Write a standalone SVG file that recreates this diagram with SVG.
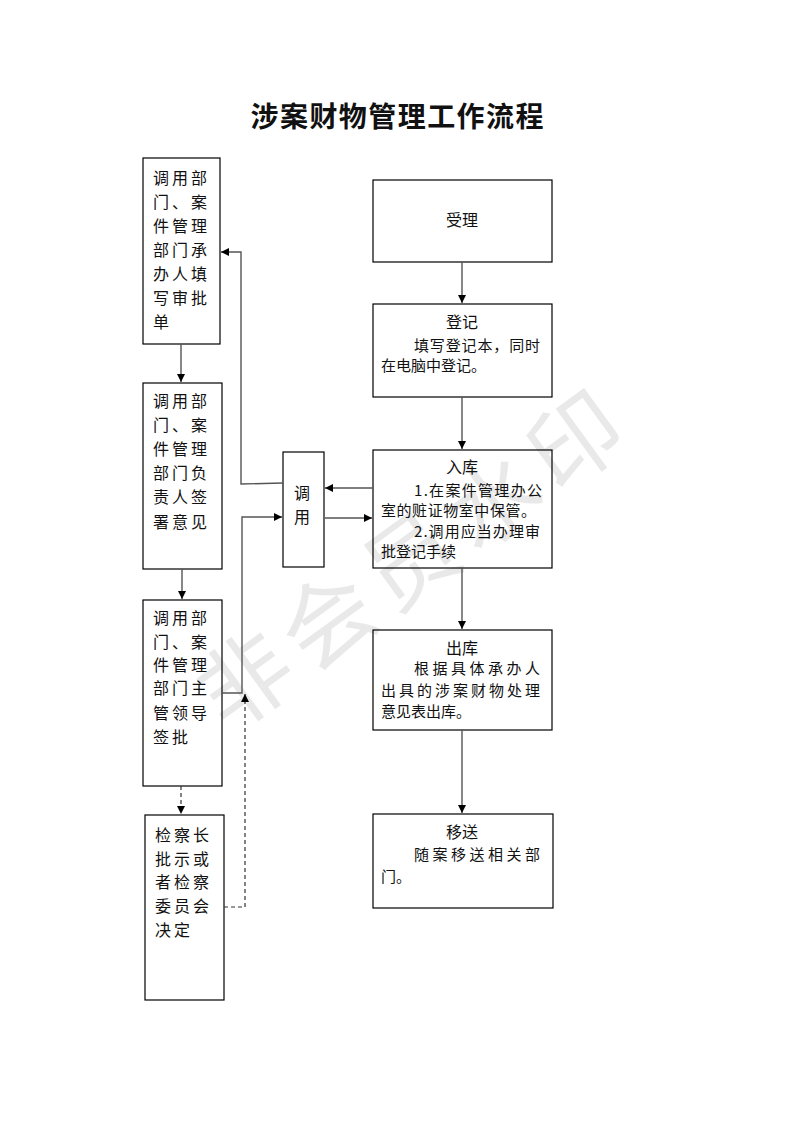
<svg xmlns="http://www.w3.org/2000/svg" width="793" height="1122" viewBox="0 0 793 1122">
<style>
  .box{fill:none;stroke:#000;stroke-width:1.2}
  .t{font-family:"Noto Sans CJK SC","Liberation Serif",sans-serif;fill:#111}
  .lt{font-size:16px;letter-spacing:3px}
  .rt{font-size:15px}
  .hd{font-size:16px;text-anchor:middle}
  .ln{fill:none;stroke:#555;stroke-width:1.4}
  .dl{fill:none;stroke:#333;stroke-width:1.2;stroke-dasharray:4 3}
  .wm{font-family:"Noto Sans CJK SC",sans-serif;font-size:92px;fill:#e9e9e9;text-anchor:middle}
</style>
<defs>
  <marker id="ah" viewBox="0 0 10 10" refX="10" refY="5" markerWidth="8" markerHeight="8" markerUnits="userSpaceOnUse" orient="auto">
    <path d="M0,0 L10,5 L0,10 z" fill="#000"/>
  </marker>
</defs>
<rect width="793" height="1122" fill="#fff"/>
<g id="watermark" transform="translate(410,560) rotate(-36)">
  <text class="wm" x="0" y="34" textLength="500" lengthAdjust="spacing">非会员水印</text>
</g>
<text class="t" x="397" y="127" font-size="28" font-weight="700" text-anchor="middle" textLength="293" lengthAdjust="spacing">涉案财物管理工作流程</text>

<g id="A">
  <rect class="box" x="143" y="158" width="77" height="186"/>
  <text class="t lt" x="153"><tspan x="153" y="184">调用部</tspan><tspan x="153" y="208">门、案</tspan><tspan x="153" y="232">件管理</tspan><tspan x="153" y="256">部门承</tspan><tspan x="153" y="280">办人填</tspan><tspan x="153" y="304">写审批</tspan><tspan x="153" y="328">单</tspan></text>
</g>
<g id="B">
  <rect class="box" x="143" y="383" width="79" height="186"/>
  <text class="t lt"><tspan x="153" y="407">调用部</tspan><tspan x="153" y="431">门、案</tspan><tspan x="153" y="455">件管理</tspan><tspan x="153" y="479">部门负</tspan><tspan x="153" y="503">责人签</tspan><tspan x="153" y="528">署意见</tspan></text>
</g>
<g id="C">
  <rect class="box" x="143" y="600" width="79" height="186"/>
  <text class="t lt"><tspan x="153" y="624">调用部</tspan><tspan x="153" y="648">门、案</tspan><tspan x="153" y="671">件管理</tspan><tspan x="153" y="694">部门主</tspan><tspan x="153" y="719">管领导</tspan><tspan x="153" y="743">签批</tspan></text>
</g>
<g id="D">
  <rect class="box" x="145" y="815" width="79" height="185"/>
  <text class="t lt"><tspan x="155" y="841">检察长</tspan><tspan x="155" y="865">批示或</tspan><tspan x="155" y="888">者检察</tspan><tspan x="155" y="912">委员会</tspan><tspan x="155" y="936">决定</tspan></text>
</g>
<g id="diaoyong">
  <rect class="box" x="283" y="452" width="41" height="115"/>
  <text class="t hd"><tspan x="302" y="499">调</tspan><tspan x="302" y="523">用</tspan></text>
</g>
<g id="shouli">
  <rect class="box" x="373" y="180" width="179" height="82"/>
  <text class="t hd" x="462" y="226">受理</text>
</g>
<g id="dengji">
  <rect class="box" x="373" y="304" width="179" height="93"/>
  <text class="t hd" x="462" y="328">登记</text>
  <text class="t rt" x="414" y="351" textLength="126" lengthAdjust="spacing">填写登记本，同时</text>
  <text class="t rt" x="381" y="371">在电脑中登记。</text>
</g>
<g id="ruku">
  <rect class="box" x="373" y="450" width="179" height="118"/>
  <text class="t hd" x="462" y="473">入库</text>
  <text class="t rt" x="414" y="496" textLength="128" lengthAdjust="spacing">1.在案件管理办公</text>
  <text class="t rt" x="381" y="516" textLength="155" lengthAdjust="spacing">室的赃证物室中保管。</text>
  <text class="t rt" x="414" y="537" textLength="126" lengthAdjust="spacing">2.调用应当办理审</text>
  <text class="t rt" x="381" y="557">批登记手续</text>
</g>
<g id="chuku">
  <rect class="box" x="373" y="630" width="179" height="100"/>
  <text class="t hd" x="462" y="654">出库</text>
  <text class="t rt" x="414" y="674" textLength="126" lengthAdjust="spacing">根据具体承办人</text>
  <text class="t rt" x="381" y="696" textLength="159" lengthAdjust="spacing">出具的涉案财物处理</text>
  <text class="t rt" x="381" y="717">意见表出库。</text>
</g>
<g id="yisong">
  <rect class="box" x="373" y="814" width="180" height="94"/>
  <text class="t hd" x="462" y="838">移送</text>
  <text class="t rt" x="414" y="860" textLength="126" lengthAdjust="spacing">随案移送相关部</text>
  <text class="t rt" x="381" y="882">门。</text>
</g>

<g id="connectors">
  <line class="ln" x1="462" y1="262" x2="462" y2="303" marker-end="url(#ah)"/>
  <line class="ln" x1="462" y1="397" x2="462" y2="449" marker-end="url(#ah)"/>
  <line class="ln" x1="462" y1="568" x2="462" y2="629" marker-end="url(#ah)"/>
  <line class="ln" x1="462" y1="730" x2="462" y2="813" marker-end="url(#ah)"/>
  <line class="ln" x1="373" y1="488" x2="325" y2="488" marker-end="url(#ah)"/>
  <line class="ln" x1="325" y1="518" x2="372" y2="518" marker-end="url(#ah)"/>
  <polyline class="ln" points="283,483 241,484 241,252 221,252" marker-end="url(#ah)"/>
  <polyline class="ln" points="222,693 242,693 242,517 282,517" marker-end="url(#ah)"/>
  <line class="ln" x1="181" y1="344" x2="181" y2="382" marker-end="url(#ah)"/>
  <line class="ln" x1="182" y1="569" x2="182" y2="599" marker-end="url(#ah)"/>
  <line class="dl" x1="181" y1="786" x2="181" y2="814" marker-end="url(#ah)"/>
  <polyline class="dl" points="224,907 245,907 245,694" marker-end="url(#ah)"/>
</g>
</svg>
